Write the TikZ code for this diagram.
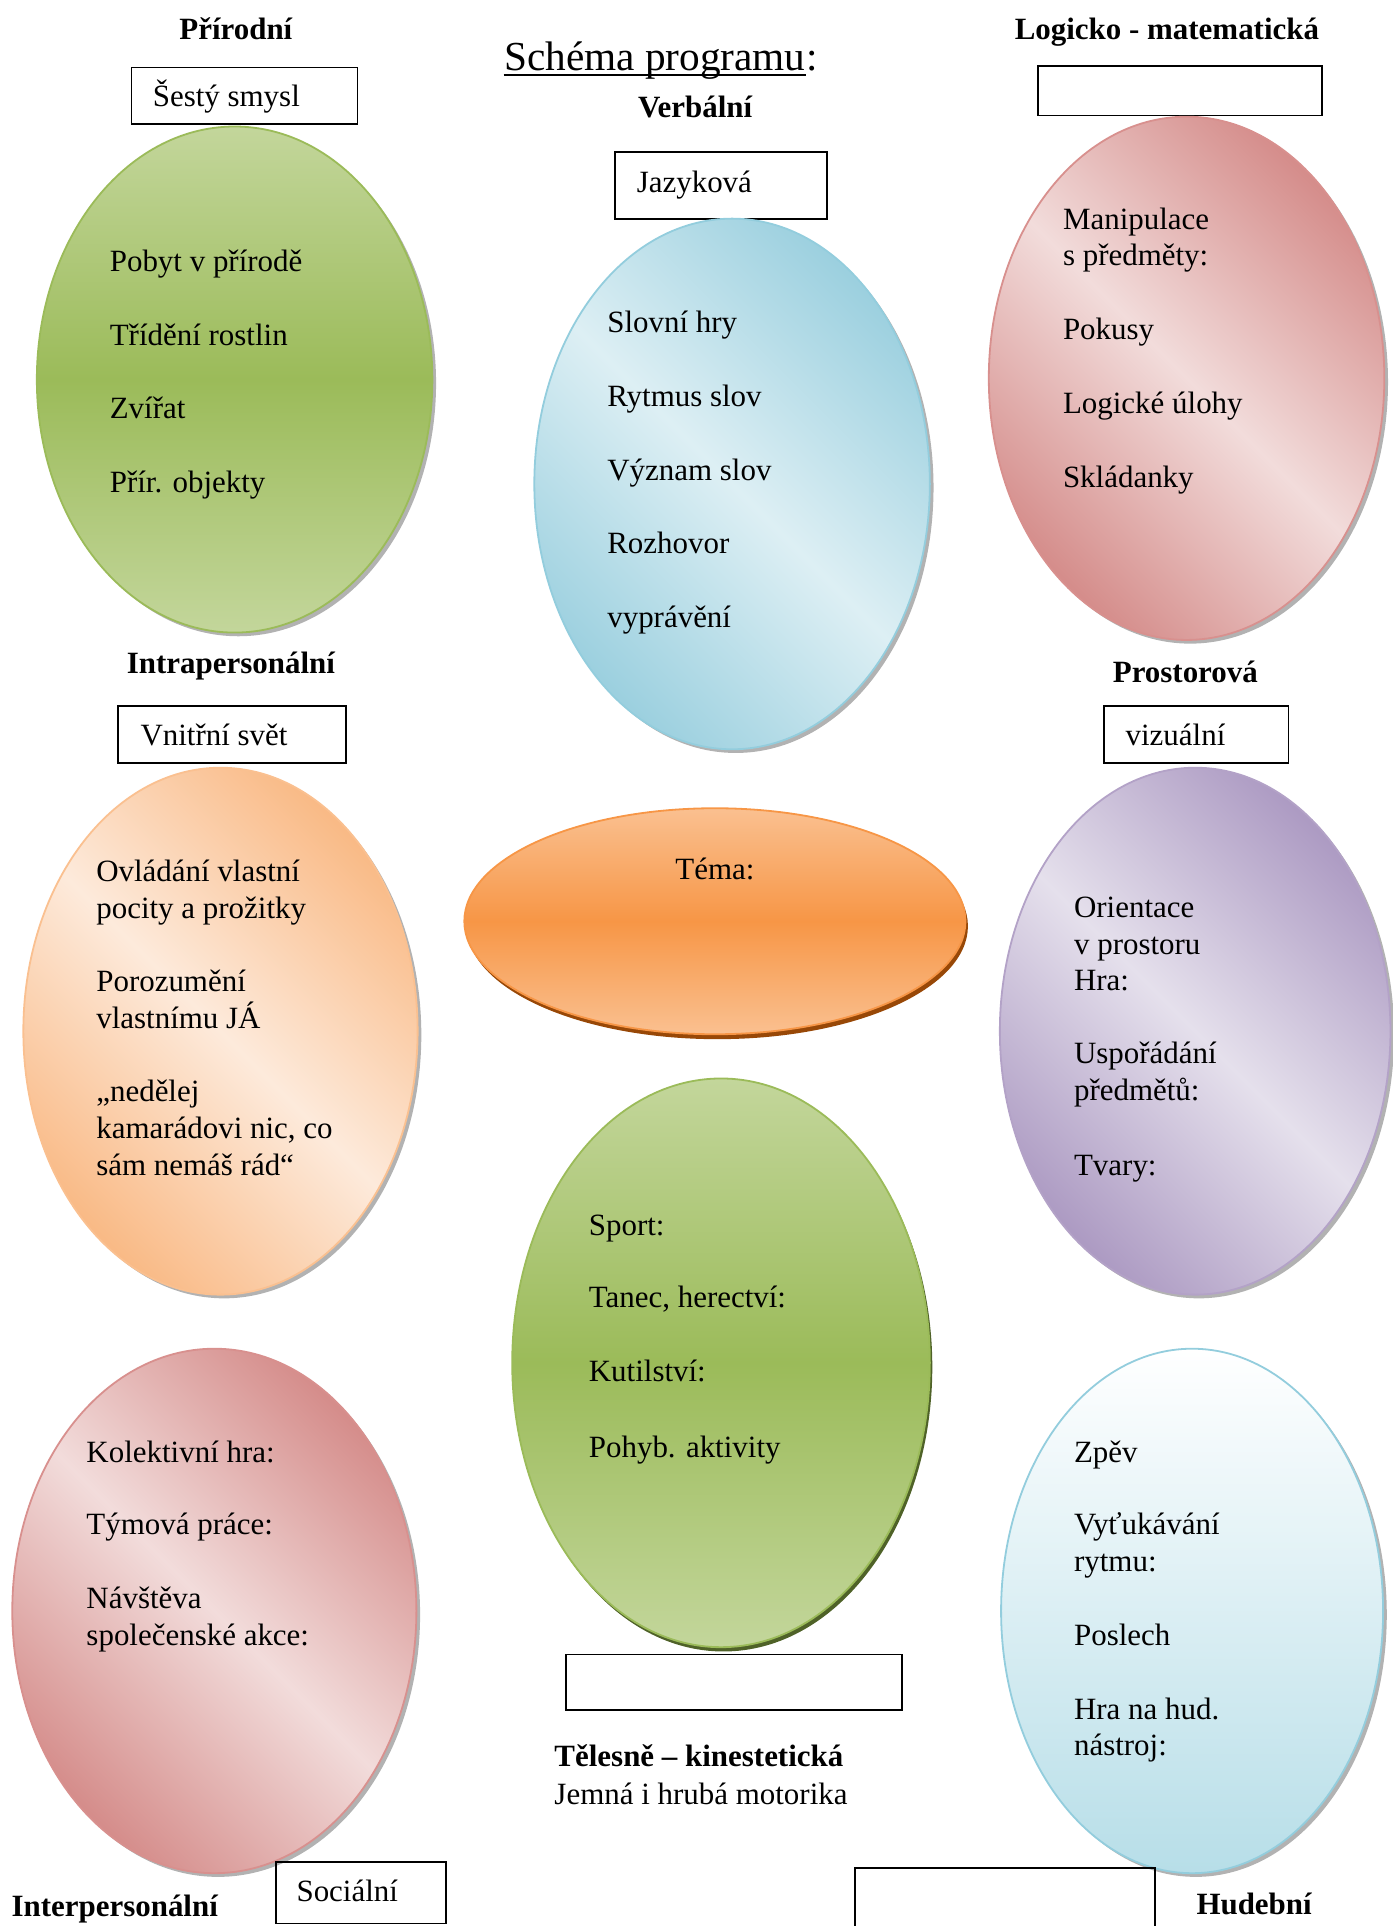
\documentclass[tikz,border=0pt]{standalone}
\usepackage{fontspec}
\setmainfont{Liberation Serif}
\definecolor{grnL}{HTML}{C3D69B}
\definecolor{grnD}{HTML}{9BBB59}
\definecolor{grnS}{HTML}{4F6228}
\definecolor{bluL}{HTML}{DDEFF4}
\definecolor{bluD}{HTML}{9CD0DF}
\definecolor{bluB}{HTML}{93CDDD}
\definecolor{redL}{HTML}{F2DCDB}
\definecolor{redD}{HTML}{D58D8B}
\definecolor{redB}{HTML}{D8908E}
\definecolor{orgL}{HTML}{FDEADB}
\definecolor{orgD}{HTML}{F9BA86}
\definecolor{orgB}{HTML}{FAC090}
\definecolor{purL}{HTML}{E5E0EC}
\definecolor{purD}{HTML}{AD9BC3}
\definecolor{purB}{HTML}{B3A2C7}
\definecolor{temL}{HTML}{FAC090}
\definecolor{temD}{HTML}{F79646}
\definecolor{temS}{HTML}{984807}
\definecolor{hudD}{HTML}{B7DEE8}

\begin{document}
\begin{tikzpicture}[x=0.4763pt, y=-0.4763pt,
	lbl/.style={font=\fontsize{12}{13.8}\selectfont\bfseries, anchor=base, inner sep=0pt},
	item/.style={font=\fontsize{12}{13.8}\selectfont, anchor=base west, inner sep=0pt},
	tag/.style={draw=black, line width=0.7pt},
	bshadow/.style={fill=black!30},
	diag/.style={shading angle=-45, line width=0.7pt}]
			%%%%% START %%%%%
			
			\useasboundingbox (0,0) rectangle (1133.6,1568);
			
			\node[item, font=\fontsize{16}{18.4}\selectfont] (titul) at (410,57) {Schéma programu};
			\node[item, font=\fontsize{16}{18.4}\selectfont] (dvojtecka) at (titul.base east) {:};
			\draw[line width=0.8pt] ([yshift=-2pt]titul.base west) -- ([yshift=-2pt]titul.base east);
			
			%%%%% Přírodní
			\node[lbl] (prirodni) at (192,32) {Přírodní};
			\draw[tag] (107,55) rectangle (291,101);
			\node[item] (sesty) at (124,87) {Šestý smysl};
			\fill[bshadow] (194,312) ellipse [x radius=161, y radius=206];
			\shadedraw[top color=grnL, bottom color=grnL, middle color=grnD, draw=grnD, line width=0.7pt] (191,309) ellipse [x radius=161, y radius=206];
			\node[item] (pr1) at (89,221) {Pobyt v přírodě};
			\node[item] (pr2) at (89,281) {Třídění rostlin};
			\node[item] (pr3) at (89,341) {Zvířat};
			\node[item] (pr4) at (89,401) {Přír. objekty};
			
			%%%%% Verbální
			\node[lbl] (verbalni) at (566,96) {Verbální};
			\draw[tag] (501,124) rectangle (673,178);
			\node[item] (jazykova) at (518,157) {Jazyková};
			\fill[bshadow] (599,397) ellipse [x radius=161, y radius=216];
			\shadedraw[top color=bluD, bottom color=bluD, middle color=bluL, draw=bluB, diag] (596,394) ellipse [x radius=161, y radius=216];
			\node[item] (ve1) at (494,271) {Slovní hry};
			\node[item] (ve2) at (494,331) {Rytmus slov};
			\node[item] (ve3) at (494,391) {Význam slov};
			\node[item] (ve4) at (494,451) {Rozhovor};
			\node[item] (ve5) at (494,511) {vyprávění};
			
			%%%%% Logicko - matematická
			\node[lbl] (logicko) at (950,32) {Logicko - matematická};
			\draw[tag] (845,54) rectangle (1076,94);
			\fill[bshadow] (969,311) ellipse [x radius=161, y radius=213];
			\shadedraw[top color=redD, bottom color=redD, middle color=redL, draw=redB, diag] (966,308) ellipse [x radius=161, y radius=213];
			\node[item] (lo1) at (865,187) {Manipulace};
			\node[item] (lo2) at (865,216) {s předměty:};
			\node[item] (lo3) at (865,276) {Pokusy};
			\node[item] (lo4) at (865,337) {Logické úlohy};
			\node[item] (lo5) at (865,397) {Skládanky};
			
			%%%%% Intrapersonální
			\node[lbl] (intra) at (188,548) {Intrapersonální};
			\draw[tag] (96,575) rectangle (282,621);
			\node[item] (vnitrni) at (114,607) {Vnitřní svět};
			\fill[bshadow] (182.5,842.5) ellipse [x radius=160.5, y radius=214.5];
			\shadedraw[top color=orgD, bottom color=orgD, middle color=orgL, draw=orgB, diag] (179.5,839.5) ellipse [x radius=160.5, y radius=214.5];
			\node[item] (in1) at (78,718) {Ovládání vlastní};
			\node[item] (in2) at (78,748) {pocity a prožitky};
			\node[item] (in3) at (78,807) {Porozumění};
			\node[item] (in4) at (78,837) {vlastnímu JÁ};
			\node[item] (in5) at (78,897) {„nedělej};
			\node[item] (in6) at (78,927) {kamarádovi nic, co};
			\node[item] (in7) at (78,957) {sám nemáš rád“};
			
			%%%%% Prostorová
			\node[lbl] (prostor) at (965,556) {Prostorová};
			\draw[tag] (899,575) rectangle (1049,621);
			\node[item] (vizualni) at (916,607) {vizuální};
			\fill[bshadow] (976,842.5) ellipse [x radius=159, y radius=214.5];
			\shadedraw[top color=purD, bottom color=purD, middle color=purL, draw=purB, diag] (973,839.5) ellipse [x radius=159, y radius=214.5];
			\node[item] (ps1) at (874,747) {Orientace};
			\node[item] (ps2) at (874,777) {v prostoru};
			\node[item] (ps3) at (874,806) {Hra:};
			\node[item] (ps4) at (874,866) {Uspořádání};
			\node[item] (ps5) at (874,896) {předmětů:};
			\node[item] (ps6) at (874,957) {Tvary:};
			
			%%%%% Téma
			\fill[temS] (584,754) ellipse [x radius=204, y radius=92];
			\shadedraw[top color=temL, bottom color=temL, middle color=temD, draw=temD, line width=0.7pt] (582,750) ellipse [x radius=204, y radius=92];
			\node[item, anchor=base] (tema) at (582,716) {Téma:};
			
			%%%%% Tělesně - kinestetická
			\fill[grnS] (589,1113) ellipse [x radius=170, y radius=231.5];
			\shadedraw[top color=grnL, bottom color=grnL, middle color=grnD, draw=grnD, line width=0.7pt] (587,1109.5) ellipse [x radius=170, y radius=231.5];
			\node[item] (te1) at (479,1005.5) {Sport:};
			\node[item] (te2) at (479,1064.5) {Tanec, herectví:};
			\node[item] (te3) at (479,1124.5) {Kutilství:};
			\node[item] (te4) at (479,1186.5) {Pohyb. aktivity};
			\draw[tag] (461,1347) rectangle (734,1392);
			\node[item, font=\fontsize{12}{13.8}\selectfont\bfseries] (telesne) at (451,1438) {Tělesně – kinestetická};
			\node[item] (jemna) at (451,1469) {Jemná i hrubá motorika};
			
			%%%%% Interpersonální
			\fill[bshadow] (177.5,1314.5) ellipse [x radius=164.5, y radius=213.5];
			\shadedraw[top color=redD, bottom color=redD, middle color=redL, draw=redB, diag] (174.5,1311.5) ellipse [x radius=164.5, y radius=213.5];
			\node[item] (ip1) at (70,1190.5) {Kolektivní hra:};
			\node[item] (ip2) at (70,1249.5) {Týmová práce:};
			\node[item] (ip3) at (70,1309.5) {Návštěva};
			\node[item] (ip4) at (70,1339.5) {společenské akce:};
			\node[item, font=\fontsize{12}{13.8}\selectfont\bfseries] (inter) at (9,1560) {Interpersonální};
			\draw[tag] (225,1516) rectangle (363,1566);
			\node[item] (socialni) at (241,1548) {Sociální};
			
			%%%%% Hudební
			\fill[bshadow] (973.5,1314.5) ellipse [x radius=155.5, y radius=213.5];
			\shadedraw[top color=white, bottom color=hudD, draw=bluB, line width=0.7pt] (970.5,1311.5) ellipse [x radius=155.5, y radius=213.5];
			\node[item] (hu1) at (874,1190.5) {Zpěv};
			\node[item] (hu2) at (874,1249.5) {Vyťukávání};
			\node[item] (hu3) at (874,1279.5) {rytmu:};
			\node[item] (hu4) at (874,1339.5) {Poslech};
			\node[item] (hu5) at (874,1399.5) {Hra na hud.};
			\node[item] (hu6) at (874,1429.5) {nástroj:};
			\draw[tag] (940,1572) -- (940,1521) -- (696,1521) -- (696,1572);
			\node[lbl] (hudebni) at (1021,1559) {Hudební};
			
			%%%%% END %%%%%
\end{tikzpicture}
\end{document}
